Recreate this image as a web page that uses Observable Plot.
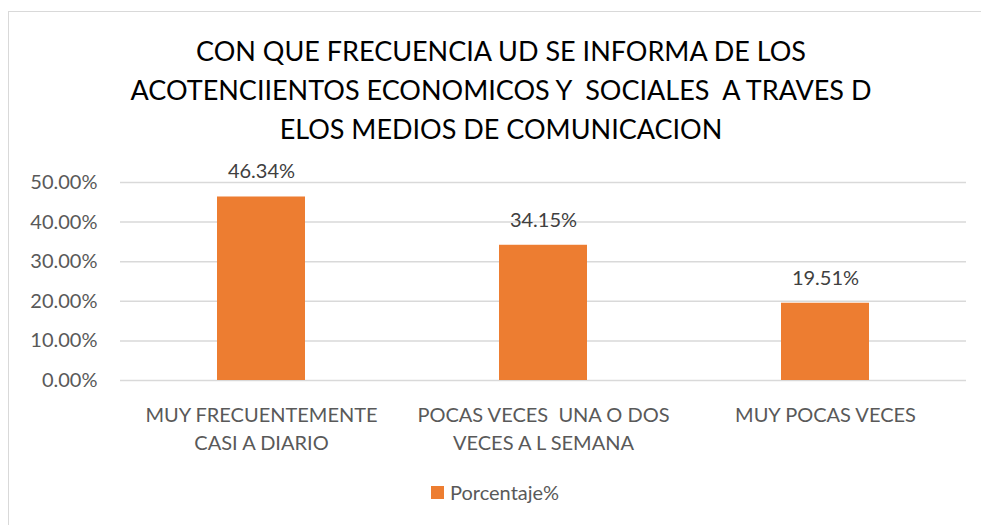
<!DOCTYPE html>
<html>
<head>
<meta charset="utf-8">
<script src="https://cdn.jsdelivr.net/npm/d3@7"></script>
<script src="https://cdn.jsdelivr.net/npm/@observablehq/plot@0.6"></script>
<style>
  html, body { margin: 0; padding: 0; background: #fff; overflow: hidden; }
  #wrap { position: relative; width: 981px; height: 525px; overflow: hidden; font-family: Lato, "Liberation Sans", sans-serif; }
  #frame { position: absolute; left: 8px; top: 11px; width: 1100px; height: 700px; border: 1px solid #d9d9d9; box-sizing: border-box; }
  #title { position: absolute; left: 0; width: 1002px; top: 31px; text-align: center; font-size: 27px; line-height: 39px; color: #000; white-space: pre; }
  #chart { position: absolute; left: 0; top: 150px; }
  #legend { position: absolute; left: 431px; top: 480px; display: flex; align-items: center; font-size: 20px; color: #595959; }
  #legend .sw { width: 13px; height: 13px; background: #ED7D31; margin-right: 6px; }
</style>
</head>
<body>
<div id="wrap">
  <div id="frame"></div>
  <div id="title"></div>
  <div id="chart"></div>
  <div id="legend"><div class="sw"></div><span id="legtext"></span></div>
</div>
<script>
const titleLines = [
  "CON QUE FRECUENCIA UD SE INFORMA DE LOS",
  "ACOTENCIIENTOS ECONOMICOS Y  SOCIALES  A TRAVES D",
  "ELOS MEDIOS DE COMUNICACION"
];
const categories = [
  "MUY FRECUENTEMENTE\nCASI A DIARIO",
  "POCAS VECES  UNA O DOS\nVECES A L SEMANA",
  "MUY POCAS VECES"
];
const values = [0.4634, 0.3415, 0.1951];
const yTicks = [0, 0.1, 0.2, 0.3, 0.4, 0.5];
const seriesName = "Porcentaje%";

document.getElementById("title").textContent = titleLines.join("\n");
document.getElementById("legtext").textContent = seriesName;

const data = categories.map((c, i) => ({category: c, value: values[i]}));
const pct = d3.format(".2%");

const chart = Plot.plot({
  width: 981,
  height: 320,
  marginTop: 32,
  marginBottom: 90,
  marginLeft: 120,
  marginRight: 15,
  style: {fontFamily: "Lato, 'Liberation Sans', sans-serif", background: "transparent"},
  x: {domain: categories, paddingInner: 0.688, paddingOuter: 0.344},
  y: {domain: [0, 0.5]},
  marks: [
    Plot.gridY(yTicks, {stroke: "#d9d9d9", strokeOpacity: 1, strokeWidth: 1.5}),
    Plot.barY(data, {x: "category", y: "value", fill: "#ED7D31"}),
    Plot.text(data, {x: "category", y: "value", text: d => pct(d.value), dy: -25, fill: "#404040", fontSize: 20}),
    Plot.axisY(yTicks, {tickSize: 0, tickPadding: 23, tickFormat: pct, fontSize: 20, fill: "#595959", label: null}),
    Plot.axisX({tickSize: 0, tickPadding: 22, fontSize: 20, fill: "#595959", lineHeight: 1.4, label: null})
  ]
});
document.getElementById("chart").appendChild(chart);
</script>
</body>
</html>
